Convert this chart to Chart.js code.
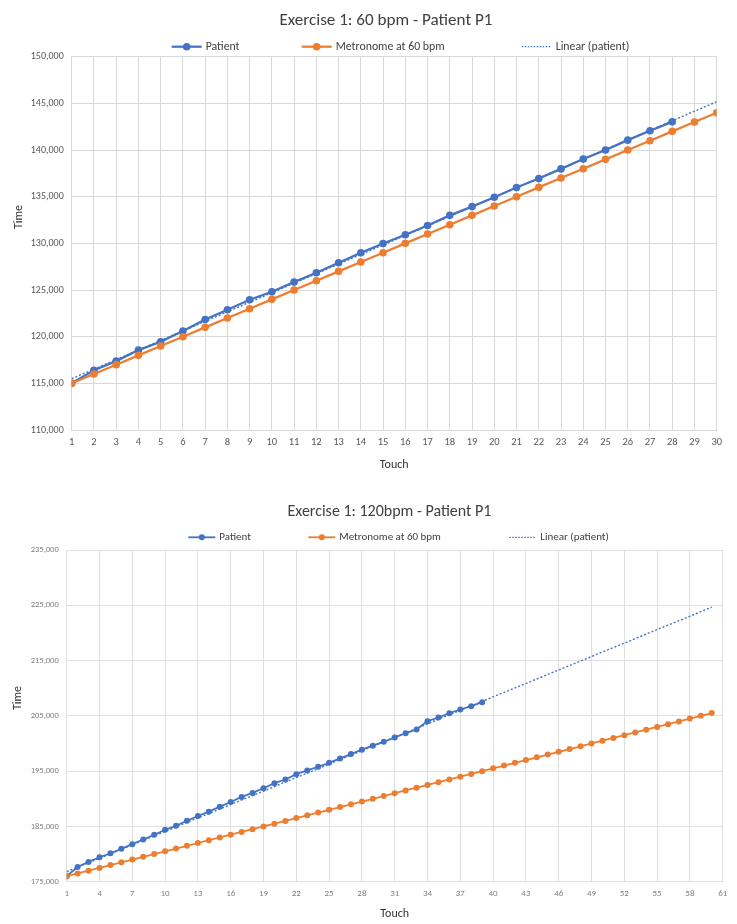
<!DOCTYPE html>
<html>
<head>
<meta charset="utf-8">
<title>Exercise 1 - Patient P1</title>
<script src="https://cdn.jsdelivr.net/npm/chart.js@4.4.1/dist/chart.umd.min.js"></script>
<style>
  html, body { margin: 0; padding: 0; background: #fff; overflow: hidden; }
  body { width: 737px; height: 924px; position: relative; }
  .box { position: absolute; left: 0; width: 737px; }
  #box1 { top: 0; height: 475px; }
  #box2 { top: 485px; height: 439px; }
</style>
</head>
<body>
<div class="box" id="box1"><canvas id="chart60"></canvas></div>
<div class="box" id="box2"><canvas id="chart120"></canvas></div>
<script>
// ---- chart 1: 60 bpm ----
const touches60 = [1, 2, 3, 4, 5, 6, 7, 8, 9, 10, 11, 12, 13, 14, 15, 16, 17, 18, 19, 20,
  21, 22, 23, 24, 25, 26, 27, 28, 29, 30];
const patient60 = [115000, 116400, 117380, 118560, 119460, 120610, 121840, 122890, 123960, 124820,
  125850, 126850, 127920, 129000, 129980, 130920, 131920, 133000, 133940, 134940,
  135980, 136940, 137980, 139030, 140010, 141060, 142060, 143020];
const metronome60 = [115000, 116000, 117000, 118000, 119000, 120000, 121000, 122000, 123000, 124000,
  125000, 126000, 127000, 128000, 129000, 130000, 131000, 132000, 133000, 134000,
  135000, 136000, 137000, 138000, 139000, 140000, 141000, 142000, 143000, 144000];
const trendTouch60 = [1, 30];
const trendTime60 = [115500, 145180];
const yTicks60 = [110000, 115000, 120000, 125000, 130000, 135000, 140000, 145000, 150000];

// ---- chart 2: 120 bpm ----
const touches120 = [1, 2, 3, 4, 5, 6, 7, 8, 9, 10, 11, 12, 13, 14, 15, 16, 17, 18, 19, 20,
  21, 22, 23, 24, 25, 26, 27, 28, 29, 30, 31, 32, 33, 34, 35, 36, 37, 38, 39, 40,
  41, 42, 43, 44, 45, 46, 47, 48, 49, 50, 51, 52, 53, 54, 55, 56, 57, 58, 59, 60, 61];
const patient120 = [176000, 177670, 178580, 179420, 180150, 180940, 181790, 182640, 183480, 184390,
  185120, 186030, 186880, 187670, 188570, 189420, 190330, 191060, 191910, 192820,
  193480, 194450, 195120, 195790, 196510, 197300, 198090, 198880, 199600, 200300,
  201080, 201870, 202530, 204040, 204700, 205480, 206150, 206750, 207470];
const metronome120 = [176000, 176500, 177000, 177500, 178000, 178500, 179000, 179500, 180000, 180500,
  181000, 181500, 182000, 182500, 183000, 183500, 184000, 184500, 185000, 185500,
  186000, 186500, 187000, 187500, 188000, 188500, 189000, 189500, 190000, 190500,
  191000, 191500, 192000, 192500, 193000, 193500, 194000, 194500, 195000, 195500,
  196000, 196500, 197000, 197500, 198000, 198500, 199000, 199500, 200000, 200500,
  201000, 201500, 202000, 202500, 203000, 203500, 204000, 204500, 205000, 205500];
const trendTouch120 = [1, 60];
const trendTime120 = [176800, 224650];
const yTicks120 = [175000, 185000, 195000, 205000, 215000, 225000, 235000];

const seriesNames = ['Patient', 'Metronome at 60 bpm', 'Linear (patient)'];
const BLUE = '#4472C4';
const ORANGE = '#ED7D31';
const FONT = 'Carlito, Calibri, Lato, sans-serif';

const toPoints = (xs, ys) => ys.map((y, i) => ({ x: xs[i], y: y }));

// Excel style header: title, legend of line + marker samples, and the "Time" axis title
const excelHeader = {
  id: 'excelHeader',
  afterDraw(chart, args, opts) {
    const ctx = chart.ctx;
    ctx.save();
    ctx.textBaseline = 'middle';
    ctx.textAlign = 'center';
    ctx.fillStyle = opts.titleColor;
    ctx.font = `${opts.titleSize}px ${FONT}`;
    ctx.fillText(opts.title, opts.titleX, opts.titleY);

    // y axis title, sits a bit above the plot centre like in Excel
    ctx.save();
    ctx.translate(opts.yTitleX, opts.yTitleY);
    ctx.rotate(-Math.PI / 2);
    ctx.fillStyle = '#333333';
    ctx.font = `12px ${FONT}`;
    ctx.fillText('Time', 0, 0);
    ctx.restore();

    ctx.textAlign = 'left';
    ctx.font = `${opts.size}px ${FONT}`;
    chart.data.datasets.forEach((ds, i) => {
      const x = opts.x[i];
      const y = opts.y;
      const len = opts.len;
      ctx.strokeStyle = ds.borderColor;
      ctx.lineWidth = ds.borderDash ? 1.3 : ds.borderWidth;
      ctx.setLineDash(ds.borderDash ? [1.5, 1.5] : []);
      ctx.beginPath();
      ctx.moveTo(x, y);
      ctx.lineTo(x + len, y);
      ctx.stroke();
      ctx.setLineDash([]);
      if (ds.pointRadius > 0) {
        ctx.fillStyle = ds.borderColor;
        ctx.beginPath();
        ctx.arc(x + len / 2, y, ds.pointRadius, 0, Math.PI * 2);
        ctx.fill();
      }
      ctx.fillStyle = opts.color;
      ctx.fillText(ds.label, x + len + opts.gap, y);
    });
    ctx.restore();
  }
};

function makeChart(id, cfg) {
  const ctx = document.getElementById(id).getContext('2d');
  return new Chart(ctx, {
    type: 'line',
    data: {
      datasets: [{
        label: seriesNames[0],
        data: toPoints(cfg.touches, cfg.patient),
        borderColor: BLUE,
        backgroundColor: BLUE,
        borderWidth: cfg.lineWidth,
        pointRadius: cfg.pointRadius,
        pointBackgroundColor: BLUE,
        pointBorderColor: BLUE,
        pointBorderWidth: 0,
        order: 3
      }, {
        label: seriesNames[1],
        data: toPoints(cfg.touches, cfg.metronome),
        borderColor: ORANGE,
        backgroundColor: ORANGE,
        borderWidth: cfg.lineWidth,
        pointRadius: cfg.pointRadius,
        pointBackgroundColor: ORANGE,
        pointBorderColor: ORANGE,
        pointBorderWidth: 0,
        order: 2
      }, {
        label: seriesNames[2],
        data: toPoints(cfg.trendTouch, cfg.trendTime),
        borderColor: BLUE,
        borderWidth: 1.4,
        borderDash: [2, 2],
        pointRadius: 0,
        order: 1
      }]
    },
    options: {
      responsive: true,
      maintainAspectRatio: false,
      animation: false,
      events: [],
      layout: { padding: { left: 0, top: cfg.padTop, right: cfg.padRight, bottom: 0 } },
      plugins: {
        legend: { display: false },
        tooltip: { enabled: false },
        title: { display: false },
        excelHeader: cfg.header
      },
      scales: {
        x: {
          type: 'linear',
          min: cfg.touches[0],
          max: cfg.touches[cfg.touches.length - 1],
          afterBuildTicks: s => { s.ticks = cfg.xTicks.map(v => ({ value: v })); },
          afterFit: s => { s.height = cfg.xHeight; },
          grid: { color: cfg.gridColor, drawTicks: false },
          border: { color: cfg.gridColor },
          ticks: {
            color: cfg.tickColor,
            font: { family: FONT, size: cfg.xTickSize },
            padding: cfg.xTickPad,
            maxRotation: 0,
            autoSkip: false
          },
          title: {
            display: true,
            text: 'Touch',
            color: '#333333',
            font: { family: FONT, size: 12 },
            padding: { top: 0, bottom: cfg.xTitlePad }
          }
        },
        y: {
          min: cfg.yTicks[0],
          max: cfg.yTicks[cfg.yTicks.length - 1],
          afterBuildTicks: s => { s.ticks = cfg.yTicks.map(v => ({ value: v })); },
          afterFit: s => { s.width = cfg.yWidth; },
          grid: { color: cfg.gridColor, drawTicks: false },
          border: { color: cfg.gridColor },
          ticks: {
            color: cfg.tickColor,
            font: { family: FONT, size: cfg.yTickSize },
            padding: 8,
            callback: v => v.toLocaleString('en-US')
          }
        }
      }
    },
    plugins: [excelHeader]
  });
}

makeChart('chart60', {
  touches: touches60,
  patient: patient60,
  metronome: metronome60,
  trendTouch: trendTouch60,
  trendTime: trendTime60,
  xTicks: touches60,
  yTicks: yTicks60,
  lineWidth: 2.25,
  pointRadius: 3.8,
  padTop: 56.7,
  padRight: 20.3,
  xHeight: 45,
  yWidth: 71.7,
  xTickSize: 10.5,
  yTickSize: 10,
  xTickPad: 6,
  xTitlePad: 3,
  tickColor: '#595959',
  gridColor: '#d9d9d9',
  header: {
    title: 'Exercise 1: 60 bpm - Patient P1', titleSize: 17.1, titleX: 386, titleY: 21, titleColor: '#404040',
    yTitleX: 18.5, yTitleY: 217,
    x: [171.7, 301.7, 521.7], y: 46.7, len: 30, gap: 4, size: 11.8, color: '#404040'
  }
});

makeChart('chart120', {
  touches: touches120,
  patient: patient120,
  metronome: metronome120,
  trendTouch: trendTouch120,
  trendTime: trendTime120,
  xTicks: touches120.filter((t, i) => i % 3 === 0),
  yTicks: yTicks120,
  lineWidth: 1.8,
  pointRadius: 3,
  padTop: 65,
  padRight: 14.3,
  xHeight: 42.3,
  yWidth: 66.7,
  xTickSize: 9,
  yTickSize: 8.5,
  xTickPad: 7,
  xTitlePad: 3,
  tickColor: '#7f7f7f',
  gridColor: '#e0e0e0',
  header: {
    title: 'Exercise 1: 120bpm - Patient P1', titleSize: 16, titleX: 389.5, titleY: 26.7, titleColor: '#404040',
    yTitleX: 18, yTitleY: 213,
    x: [188.3, 308.3, 509.3], y: 52.3, len: 27, gap: 4, size: 11, color: '#404040'
  }
});
</script>
</body>
</html>
